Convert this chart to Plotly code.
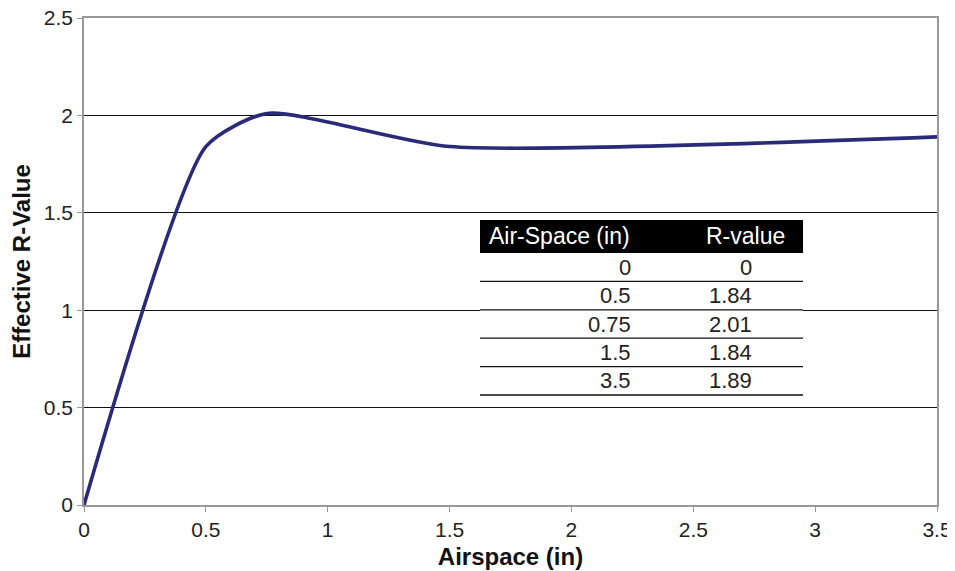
import plotly.graph_objects as go

airspace = [0, 0.5, 0.75, 1.5, 3.5]
r_value = [0, 1.84, 2.01, 1.84, 1.89]
table_x_labels = ["0", "0.5", "0.75", "1.5", "3.5"]
table_r_labels = ["0", "1.84", "2.01", "1.84", "1.89"]
header = ["Air-Space (in)", "R-value"]

# page body has an 8px margin; work in screen pixels and offset
OFF = 8
W, H = 955 - OFF, 571 - OFF
PL, PR, PT, PB = 84, 937, 18, 505  # plot box in screen pixels
ML, MR, MT, MB = PL - OFF, W - (PR - OFF), PT - OFF, H - (PB - OFF)
PW, PH = PR - PL, PB - PT


def px(x):
    return (x - PL) / PW


def py(y):
    return (PB - y) / PH


fig = go.Figure()
fig.add_trace(go.Scatter(
    x=airspace, y=r_value, mode="lines",
    line=dict(color="#292A78", width=3.6, shape="spline", smoothing=0.6),
    showlegend=False, hoverinfo="skip",
))

font_family = "Liberation Sans, Arial, sans-serif"
shapes = []
annotations = []

# table geometry (screen pixels)
tl, tr = 480, 803
ht, hb = 220, 253
row_h = 28.4
col1_right, col2_right = 633, 754
tfs = 22

shapes.append(dict(type="rect", xref="paper", yref="paper",
                   x0=px(tl), x1=px(tr), y0=py(hb + row_h * len(airspace)), y1=py(hb),
                   fillcolor="white", line=dict(width=0), layer="above"))
shapes.append(dict(type="rect", xref="paper", yref="paper",
                   x0=px(tl), x1=px(tr), y0=py(hb), y1=py(ht),
                   fillcolor="black", line=dict(width=0), layer="above"))
annotations.append(dict(xref="paper", yref="paper", x=px(487), y=py((ht + hb) / 2),
                        text=header[0], showarrow=False, xanchor="left", yanchor="middle",
                        font=dict(color="white", size=23, family=font_family)))
annotations.append(dict(xref="paper", yref="paper", x=px(787), y=py((ht + hb) / 2),
                        text=header[1], showarrow=False, xanchor="right", yanchor="middle",
                        font=dict(color="white", size=23, family=font_family)))
for i, (a, r) in enumerate(zip(table_x_labels, table_r_labels)):
    top = hb + row_h * i
    bot = hb + row_h * (i + 1)
    mid = (top + bot) / 2
    annotations.append(dict(xref="paper", yref="paper", x=px(col1_right), y=py(mid),
                            text=a, showarrow=False, xanchor="right", yanchor="middle",
                            font=dict(color="#222", size=tfs, family=font_family)))
    annotations.append(dict(xref="paper", yref="paper", x=px(col2_right), y=py(mid),
                            text=r, showarrow=False, xanchor="right", yanchor="middle",
                            font=dict(color="#222", size=tfs, family=font_family)))
    shapes.append(dict(type="line", xref="paper", yref="paper",
                       x0=px(tl), x1=px(tr), y0=py(bot), y1=py(bot),
                       line=dict(color="#111", width=1.3), layer="above"))

fig.update_layout(
    width=W, height=H,
    margin=dict(l=ML, r=MR, t=MT, b=MB, autoexpand=False),
    paper_bgcolor="white", plot_bgcolor="white",
    font=dict(family=font_family, color="#222", size=21),
    shapes=shapes, annotations=annotations,
    xaxis=dict(range=[0, 3.5], dtick=0.5, tick0=0, showgrid=False, zeroline=False,
               showline=True, linecolor="#999", linewidth=1.5, mirror=True,
               ticks="outside", ticklen=5, tickcolor="#999", tickwidth=1.3,
               ticklabeloverflow="allow",
               tickfont=dict(size=21, color="#222"),
               title=dict(text="<b>Airspace (in)</b>", font=dict(size=24, color="#111"), standoff=8)),
    yaxis=dict(range=[0, 2.5], dtick=0.5, tick0=0, showgrid=True, gridcolor="#111", gridwidth=1,
               zeroline=False, showline=True, linecolor="#999", linewidth=1.5, mirror=True,
               ticks="outside", ticklen=5, tickcolor="#999", tickwidth=1.3,
               ticklabeloverflow="allow",
               tickfont=dict(size=21, color="#222"),
               title=dict(text="<b>Effective R-Value</b>", font=dict(size=24, color="#111"), standoff=8)),
)

fig.write_html("out.html")
